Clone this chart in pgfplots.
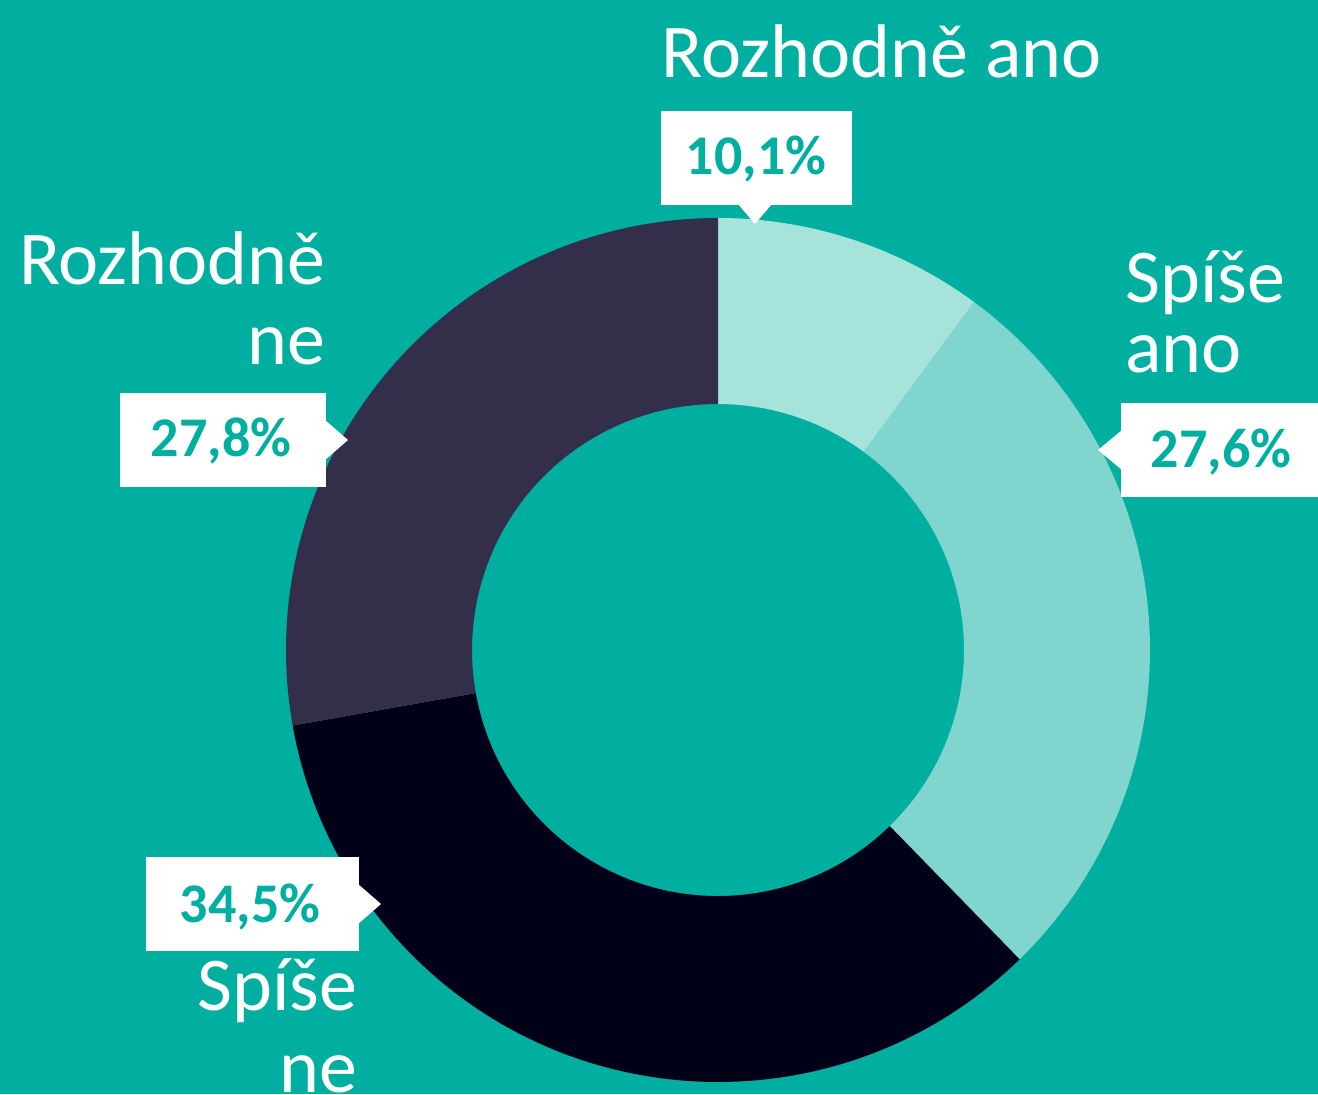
\documentclass[border=0pt]{standalone}
\usepackage{pgfplots}
\pgfplotsset{compat=1.18}
\usepackage{pgfplotstable}
\usepackage{fontspec}
\setmainfont{Carlito}
\definecolor{bg}{RGB}{0,175,160}
\definecolor{c1}{RGB}{166,227,219}
\definecolor{c2}{RGB}{128,214,206}
\definecolor{c3}{RGB}{0,0,24}
\definecolor{c4}{RGB}{51,47,75}
\pgfplotstableread[col sep=comma]{
label,value,color
Rozhodne ano,10.1,c1
Spise ano,27.6,c2
Spise ne,34.5,c3
Rozhodne ne,27.8,c4
}\data
\begin{document}
\begin{tikzpicture}
\begin{axis}[x=0.5pt,y=0.5pt,xmin=0,xmax=1318,ymin=0,ymax=1094,
  axis lines=none,ticks=none,clip=false,scale only axis]
\fill[bg] (axis cs:0,0) rectangle (axis cs:1318,1094);
\pgfplotstablegetrowsof{\data}
\pgfmathtruncatemacro\nrows{\pgfplotsretval-1}
\def\cum{0}
\pgfplotsforeachungrouped \i in {0,...,\nrows}{%
  \pgfplotstablegetelem{\i}{value}\of\data \let\v\pgfplotsretval
  \pgfplotstablegetelem{\i}{color}\of\data \let\c\pgfplotsretval
  \pgfmathsetmacro\aS{90-3.6*\cum}%
  \pgfmathsetmacro\cum{\cum+\v}%
  \pgfmathsetmacro\aE{90-3.6*\cum}%
  \pgfmathsetmacro\aB{\aE+180}%
  \edef\temp{\noexpand\fill[\c] (axis cs:718,444) ++(\aS:216pt) arc[start angle=\aS, end angle=\aE, radius=216pt] -- ++(\aB:93pt) arc[start angle=\aE, end angle=\aS, radius=123pt] -- cycle;}%
  \temp
}
% label boxes (image y flipped: Y = 1094 - y)
\fill[white] (axis cs:661,983) rectangle (axis cs:852,889);
\fill[white] (axis cs:738,890) -- (axis cs:772,890) -- (axis cs:755,870) -- cycle;
\fill[white] (axis cs:120,701) rectangle (axis cs:326,607);
\fill[white] (axis cs:325,674) -- (axis cs:348,654) -- (axis cs:325,634) -- cycle;
\fill[white] (axis cs:1121,691) rectangle (axis cs:1318,597);
\fill[white] (axis cs:1122,664) -- (axis cs:1098,644) -- (axis cs:1122,624) -- cycle;
\fill[white] (axis cs:146,237) rectangle (axis cs:359,143);
\fill[white] (axis cs:358,210) -- (axis cs:381,190) -- (axis cs:358,170) -- cycle;
\tikzset{pct/.style={text=bg,font=\fontsize{28}{28}\selectfont\bfseries,anchor=base,inner sep=0pt},
  cat/.style={text=white,font=\fontsize{38}{38}\selectfont,inner sep=0pt}}
\node[pct] at (axis cs:756,919) {10,1\%};
\node[pct] at (axis cs:221,637) {27,8\%};
\node[pct] at (axis cs:1221,626) {27,6\%};
\node[pct] at (axis cs:250,172) {34,5\%};
\node[cat,anchor=base] at (axis cs:882,1016) {Rozhodně ano};
\node[cat,anchor=base east] at (axis cs:326,809) {Rozhodně};
\node[cat,anchor=base east] at (axis cs:326,729) {ne};
\node[cat,anchor=base west] at (axis cs:1125,791) {Spíše};
\node[cat,anchor=base west] at (axis cs:1125,721) {ano};
\node[cat,anchor=base east] at (axis cs:358,84) {Spíše};
\node[cat,anchor=base east] at (axis cs:358,2) {ne};
\end{axis}
\pgfresetboundingbox
\path[use as bounding box] (current axis.south west) rectangle (current axis.north east);
\end{tikzpicture}
\end{document}
